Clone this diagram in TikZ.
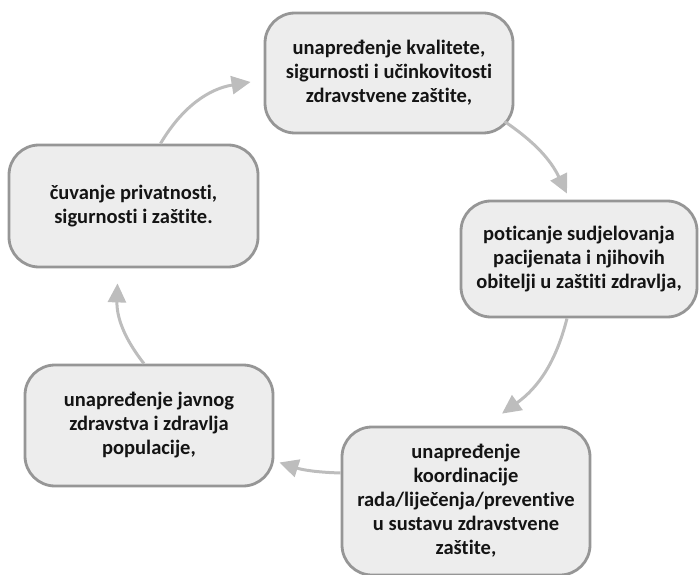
\documentclass[tikz,border=0pt]{standalone}
\usepackage{fontspec}
\setmainfont{Carlito}[Ligatures=NoCommon]
\usetikzlibrary{arrows.meta}
\definecolor{boxfill}{HTML}{EDEDED}
\definecolor{boxline}{HTML}{969696}
\definecolor{arrline}{HTML}{BDBDBD}
\definecolor{txt}{HTML}{141414}
\begin{document}
\begin{tikzpicture}[x=1pt,y=1pt,line join=round,
		box/.style={draw=boxline,fill=boxfill,line width=2.8pt,rounded corners=30pt,inner sep=0pt,
			align=center,text=txt,font=\fontsize{20.5}{24}\selectfont\bfseries},
		arr/.style={draw=arrline,line width=3pt,-{Triangle[length=19pt,width=18pt]}}]
	\useasboundingbox (0,0) rectangle (699,574);
	\node[box,minimum width=248pt,minimum height=120pt] (qual) at (389,501) {unapređenje kvalitete,\\sigurnosti i učinkovitosti\\zdravstvene zaštite,};
	\node[box,minimum width=236pt,minimum height=116pt] (pat) at (579,315) {poticanje sudjelovanja\\pacijenata i njihovih\\obitelji u zaštiti zdravlja,};
	\node[box,minimum width=248pt,minimum height=148pt] (koord) at (466,73) {unapređenje\\koordinacije\\rada/liječenja/preventive\\u sustavu zdravstvene\\zaštite,};
	\node[box,minimum width=248pt,minimum height=121pt] (javno) at (149,148.5) {unapređenje javnog\\zdravstva i zdravlja\\populacije,};
	\node[box,minimum width=249pt,minimum height=122pt] (cuv) at (133.5,368) {čuvanje privatnosti,\\sigurnosti i zaštite.};
	\draw[arr] ([xshift=-10pt,yshift=13pt]qual.south east) to[bend left=15] ([xshift=-12pt,yshift=6pt]pat.north);
	\draw[arr] ([xshift=-12pt]pat.south) to[bend left=20] ([xshift=36pt,yshift=12pt]koord.north);
	\draw[arr] ([yshift=28pt]koord.west) to[bend left=8] ([xshift=5pt,yshift=-37pt]javno.east);
	\draw[arr] ([xshift=-5pt]javno.north) to[bend left=20] ([xshift=-16pt,yshift=-15pt]cuv.south);
	\draw[arr] ([xshift=27pt]cuv.north) to[bend left=25] ([xshift=-13pt,yshift=-9pt]qual.west);
\end{tikzpicture}
\end{document}
